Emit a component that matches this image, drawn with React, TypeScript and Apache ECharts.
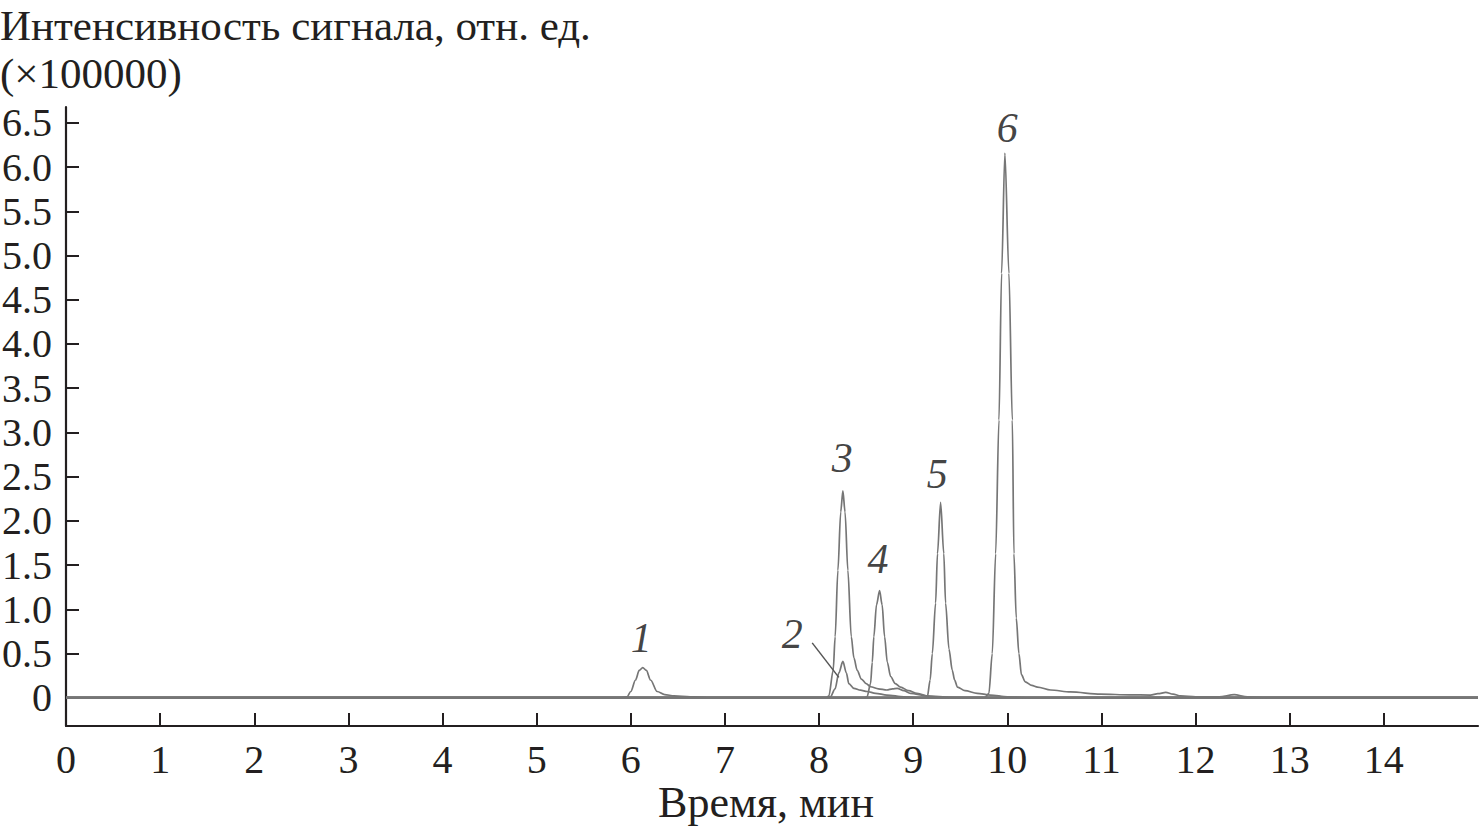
import React, { useEffect, useRef } from "react";
import * as echarts from "echarts";

// Chromatogram traces: [time (min), intensity (×100000)]
const peak1: [number, number][] = [
  [0, 0], [5.9, 0], [5.96, 0.01], [6.0, 0.07], [6.05, 0.2], [6.09, 0.31], [6.127, 0.34], [6.165, 0.31],
  [6.21, 0.2], [6.28, 0.07], [6.36, 0.035], [6.46, 0.02], [6.63, 0.01], [6.9, 0], [15, 0],
];
const peak2: [number, number][] = [
  [0, 0], [8.08, 0], [8.12, 0.01], [8.17, 0.1], [8.21, 0.28], [8.253, 0.41], [8.29, 0.28], [8.316, 0.16],
  [8.37, 0.106], [8.44, 0.085], [8.51, 0.07], [8.6, 0.05], [8.72, 0.03], [8.9, 0.01], [9.1, 0], [15, 0],
];
const peak3: [number, number][] = [
  [0, 0], [8.08, 0], [8.104, 0.02], [8.15, 0.31], [8.171, 0.69], [8.2, 1.44], [8.23, 2.1], [8.253, 2.34],
  [8.276, 2.1], [8.306, 1.44], [8.342, 0.69], [8.37, 0.45], [8.405, 0.31], [8.45, 0.21], [8.5, 0.16],
  [8.547, 0.124], [8.63, 0.1], [8.72, 0.087], [8.78, 0.1], [8.83, 0.106], [8.9, 0.08], [8.97, 0.05],
  [9.15, 0.02], [9.4, 0.005], [9.7, 0], [15, 0],
];
const peak4: [number, number][] = [
  [0, 0], [8.48, 0], [8.51, 0.01], [8.547, 0.16], [8.565, 0.4], [8.582, 0.69], [8.61, 1.05], [8.643, 1.21],
  [8.67, 1.05], [8.696, 0.69], [8.725, 0.4], [8.76, 0.24], [8.81, 0.16], [8.866, 0.12], [8.95, 0.08],
  [9.04, 0.05], [9.18, 0.01], [9.4, 0], [15, 0],
];
const peak5: [number, number][] = [
  [0, 0], [9.12, 0], [9.15, 0.01], [9.18, 0.2], [9.203, 0.5], [9.238, 1.07], [9.258, 1.63], [9.291, 2.21],
  [9.325, 1.63], [9.344, 1.07], [9.38, 0.55], [9.415, 0.31], [9.44, 0.2], [9.47, 0.12], [9.55, 0.08],
  [9.68, 0.05], [9.82, 0.03], [10.0, 0.01], [10.3, 0], [15, 0],
];
const peak6: [number, number][] = [
  [0, 0], [9.76, 0], [9.804, 0.05], [9.84, 0.5], [9.876, 1.63], [9.911, 3.14], [9.939, 4.8], [9.974, 6.16],
  [10.017, 4.8], [10.053, 3.14], [10.07, 1.63], [10.095, 0.9], [10.123, 0.5], [10.15, 0.26], [10.19, 0.18],
  [10.26, 0.14], [10.32, 0.12], [10.46, 0.087], [10.67, 0.065], [10.99, 0.04], [11.3, 0.033], [11.52, 0.03],
  [11.6, 0.045], [11.683, 0.06], [11.76, 0.04], [11.84, 0.02], [12.0, 0.01], [12.25, 0.01], [12.41, 0.035],
  [12.55, 0.01], [12.8, 0], [15, 0],
];
const baseline: [number, number][] = [[0, 0], [15, 0]];

// Peak number annotations: [time, intensity, label]
const peakLabels: [number, number, string][] = [
  [6.11, 0.675, "1"],
  [7.715, 0.72, "2"],
  [8.246, 2.71, "3"],
  [8.627, 1.57, "4"],
  [9.256, 2.53, "5"],
  [10.0, 6.44, "6"],
];
const leader2: [number, number][] = [[7.927, 0.62], [8.21, 0.23]];

const xTicks = [0, 1, 2, 3, 4, 5, 6, 7, 8, 9, 10, 11, 12, 13, 14];
const yTicks = [0, 0.5, 1, 1.5, 2, 2.5, 3, 3.5, 4, 4.5, 5, 5.5, 6, 6.5];

const yTitle1 = "Интенсивность сигнала, отн. ед.";
const yTitle2 = "(×100000)";
const xTitle = "Время, мин";

const INK = "#231f20";
const TRACE = "#767676";
const FONT = "'Liberation Serif', 'Times New Roman', serif";

export default function App() {
  const ref = useRef<HTMLDivElement>(null);
  useEffect(() => {
    document.body.style.margin = "0";
    if (!ref.current) return;
    const chart = echarts.init(ref.current, null, { renderer: "svg" });
    const traces = [peak1, peak2, peak3, peak4, peak5, peak6];
    chart.setOption({
      animation: false,
      backgroundColor: "#ffffff",
      grid: { left: 66, right: 3, top: 107, bottom: 103, containLabel: false, outerBoundsMode: "none" },
      xAxis: {
        type: "value",
        min: 0,
        max: 15,
        interval: 1,
        axisLine: { show: true, onZero: false, lineStyle: { color: INK, width: 2.2 } },
        axisTick: { show: true, inside: true, length: 13, customValues: xTicks, lineStyle: { color: INK, width: 2 } },
        axisLabel: {
          customValues: xTicks,
          margin: 13,
          color: INK,
          fontFamily: FONT,
          fontSize: 40,
        },
        splitLine: { show: false },
      },
      yAxis: {
        type: "value",
        min: -0.32,
        max: 6.68,
        axisLine: { show: true, onZero: false, lineStyle: { color: INK, width: 2.2 } },
        axisTick: { show: true, inside: true, length: 13, customValues: yTicks, lineStyle: { color: INK, width: 2 } },
        axisLabel: {
          customValues: yTicks,
          margin: 14,
          color: INK,
          fontFamily: FONT,
          fontSize: 40,
          formatter: (v: number) => (v === 0 ? "0" : v.toFixed(1)),
        },
        splitLine: { show: false },
      },
      graphic: [
        { type: "text", x: 0, y: 25, style: { text: yTitle1, font: `43px ${FONT}`, fill: INK, verticalAlign: "middle" } },
        { type: "text", x: 0, y: 73, style: { text: yTitle2, font: `43px ${FONT}`, fill: INK, verticalAlign: "middle" } },
        { type: "text", x: 766, y: 802, style: { text: xTitle, font: `44px ${FONT}`, fill: INK, align: "center", verticalAlign: "middle" } },
      ],
      series: [
        {
          type: "line",
          data: baseline,
          symbol: "none",
          lineStyle: { color: "#4a4a4a", width: 2.2 },
          z: 1,
        },
        ...traces.map((d) => ({
          type: "line",
          data: d,
          symbol: "none",
          smooth: 0.3,
          smoothMonotone: "x",
          lineStyle: { color: TRACE, width: 1.7 },
          z: 2,
        })),
        {
          type: "line",
          data: leader2,
          symbol: "none",
          lineStyle: { color: "#555", width: 1.5 },
          z: 3,
        },
        {
          type: "scatter",
          data: peakLabels.map((p) => ({ value: [p[0], p[1]], name: p[2] })),
          symbolSize: 0,
          label: {
            show: true,
            position: "inside",
            formatter: (p: any) => p.name,
            fontFamily: FONT,
            fontStyle: "italic",
            fontSize: 42,
            color: "#111",
          },
          z: 4,
        },
      ],
    });
    return () => chart.dispose();
  }, []);
  return <div ref={ref} style={{ width: 1481, height: 829 }} />;
}
